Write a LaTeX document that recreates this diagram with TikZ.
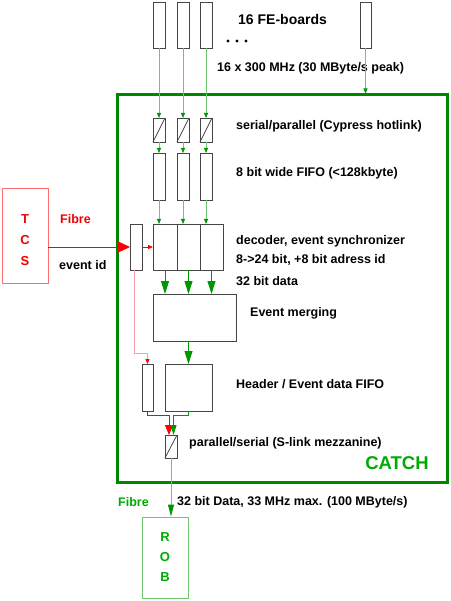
\documentclass[tikz,border=0pt]{standalone}
\usepackage{fontspec}
\setmainfont{Liberation Sans}
\usetikzlibrary{arrows.meta}
\definecolor{lgreen}{RGB}{110,200,110}
\definecolor{dgreen}{RGB}{0,150,0}
\definecolor{cgreen}{RGB}{0,135,0}
\definecolor{tgreen}{RGB}{0,170,0}
\definecolor{boxgray}{RGB}{70,70,70}
\definecolor{lred}{RGB}{255,110,110}
\definecolor{pred}{RGB}{255,160,160}
\definecolor{tred}{RGB}{240,0,0}
\tikzset{
  blk/.style={draw=boxgray,line width=0.9pt,inner sep=0pt,outer sep=0pt},
  lbl/.style={font=\bfseries\fontsize{12.5}{15}\selectfont,anchor=west,inner sep=0pt},
  gthin/.style={draw=lgreen,line width=0.8pt,-{Triangle[length=5pt,width=4pt,color=dgreen]}},
  gbig/.style={draw=dgreen,line width=0.9pt,-{Triangle[length=13pt,width=8pt,color=dgreen]}},
  rthin/.style={draw=red,line width=0.8pt,-{Triangle[length=5pt,width=4pt,color=red]}},
  rbig/.style={draw=red,line width=0.9pt,-{Triangle[length=13pt,width=12pt,color=red]}},
  rmid/.style={draw=red,line width=0.9pt,-{Triangle[length=10pt,width=8pt,color=red]}},
  dotn/.style={circle,fill=black,inner sep=0pt,minimum size=3.2pt},
}
\begin{document}
\begin{tikzpicture}[x=1pt,y=-1pt]
\useasboundingbox (0,0) rectangle (450,601);
% FE boards
\node[blk,minimum width=12pt,minimum height=46pt] (fe1) at (159,25) {};
\node[blk,minimum width=12pt,minimum height=46pt] (fe2) at (183,25) {};
\node[blk,minimum width=12pt,minimum height=46pt] (fe3) at (206,25) {};
\node[blk,minimum width=11pt,minimum height=46pt] (fe4) at (365.5,25) {};
\node[lbl,font=\bfseries\fontsize{14}{16}\selectfont] (fetxt) at (238,20) {16 FE-boards};
\node[dotn] (d1) at (228,41) {};
\node[dotn] (d2) at (237,41) {};
\node[dotn] (d3) at (246,41) {};
\node[lbl] (rate) at (217,68) {16 x 300 MHz (30 MByte/s peak)};
% CATCH frame
\node[draw=cgreen,line width=3pt,inner sep=0pt,minimum width=330pt,minimum height=387pt] (catch) at (282,288.5) {};
\node[font=\bfseries\fontsize{18.5}{20}\selectfont,text=tgreen,inner sep=0pt] (catchtxt) at (397,463) {CATCH};
% serial/parallel
\foreach \i/\x in {1/159,2/183,3/206}{
  \node[blk,minimum width=12pt,minimum height=24pt] (sp\i) at (\x,130) {};
  \draw[boxgray,line width=0.8pt] (sp\i.south west) -- (sp\i.north east);
  \node[blk,minimum width=12pt,minimum height=47pt] (fifo\i) at (\x,176.5) {};
}
\node[lbl] (sptxt) at (236,126) {serial/parallel (Cypress hotlink)};
\node[lbl] (fifotxt) at (236,173) {8 bit wide FIFO (<128kbyte)};
% decoder
\node[blk,minimum width=24pt,minimum height=46pt] (dec1) at (165,247) {};
\node[blk,minimum width=23pt,minimum height=46pt] (dec2) at (188.5,247) {};
\node[blk,minimum width=23pt,minimum height=46pt] (dec3) at (211.5,247) {};
\node[blk,minimum width=12pt,minimum height=46pt] (eid) at (136,247) {};
\node[lbl] (dectxt1) at (236,241) {decoder, event synchronizer};
\node[lbl] (dectxt2) at (236,260) {8->24 bit, +8 bit adress id};
\node[lbl] (dectxt3) at (236,281) {32 bit data};
% TCS
\node[draw=lred,line width=0.9pt,inner sep=0pt,minimum width=46pt,minimum height=95pt] (tcs) at (25,235.5) {};
\node[font=\bfseries\fontsize{13}{21}\selectfont,text=tred,align=center,inner sep=0pt] (tcstxt) at (25,240) {T\\C\\S};
\node[lbl,text=tred] (fibre1) at (60,219) {Fibre};
\node[lbl] (evid) at (59,265) {event id};
% merging
\node[blk,minimum width=83pt,minimum height=47pt] (merge) at (194.5,317.5) {};
\node[lbl] (mergetxt) at (250,313) {Event merging};
% header fifo
\node[blk,minimum width=11pt,minimum height=47pt] (hs) at (147.5,387.5) {};
\node[blk,minimum width=47pt,minimum height=47pt] (hf) at (188.5,387.5) {};
\node[lbl] (hftxt) at (236,384) {Header / Event data FIFO};
% parallel/serial
\node[blk,minimum width=12pt,minimum height=23pt] (ps) at (171,446.5) {};
\draw[boxgray,line width=0.8pt] (ps.south west) -- (ps.north east);
\node[lbl] (pstxt) at (189,443) {parallel/serial (S-link mezzanine)};
% ROB
\node[draw=lgreen,line width=0.9pt,inner sep=0pt,minimum width=46pt,minimum height=81pt,text=tgreen,align=center,font=\bfseries\fontsize{13}{20}\selectfont] (rob) at (165,557.5) {R\\O\\B};
\node[lbl,text=tgreen] (fibre2) at (118,502) {Fibre};
\node[lbl] (outtxt) at (177,502) {32 bit Data, 33 MHz max. (100 MByte/s)};
% connectors
\foreach \i in {1,2,3}{
  \draw[gthin] (fe\i.south) -- (sp\i.north);
  \draw[gthin] (sp\i.south) -- (fifo\i.north);
  \draw[gthin] (fifo\i.south) -- (fifo\i.south |- dec1.north);
  \draw[gbig] (dec\i.south) -- (dec\i.south |- merge.north);
}
\draw[gthin] (fe4.south) -- (fe4.south |- catch.north);
\draw[rbig] (tcs.east |- eid.west) -- (eid.west);
\draw[rthin] (eid.east) -- (dec1.west);
\draw[draw=pred,line width=0.8pt,-{Triangle[length=5pt,width=4pt,color=red]}] ([xshift=-2pt]eid.south) -- ++(0,83) -| (hs.north);
\draw[gbig] (hf.north |- merge.south) -- (hf.north);
\draw[rmid] (hs.south) -- ++(0,4) -| ([xshift=-2pt]ps.north);
\draw[draw=dgreen,line width=0.9pt,-{Triangle[length=10pt,width=6pt,color=dgreen]}] (hf.south) -- ++(0,4) -| ([xshift=2.5pt]ps.north);
\draw[draw=lgreen,line width=0.9pt,-{Triangle[length=12pt,width=6pt,color=dgreen]}] (ps.south) -- (ps.south |- rob.north);
\end{tikzpicture}
\end{document}
